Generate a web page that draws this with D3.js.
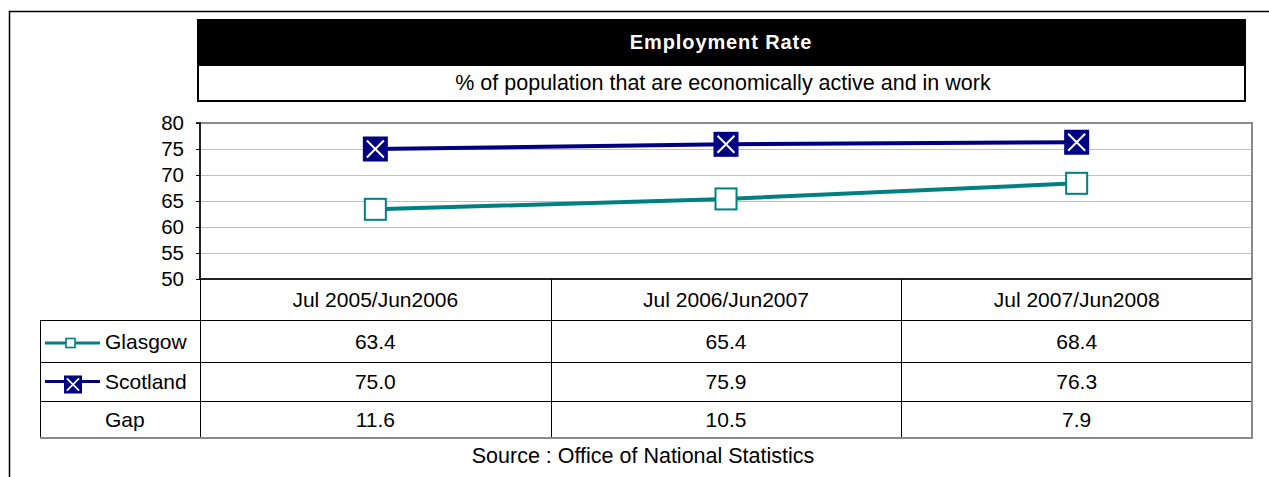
<!DOCTYPE html>
<html>
<head>
<meta charset="utf-8">
<script src="https://cdn.jsdelivr.net/npm/d3@7/dist/d3.min.js"></script>
<style>
  html, body { margin: 0; padding: 0; background: #fff; }
  svg { display: block; font-family: "Liberation Sans", Arial, sans-serif; }
</style>
</head>
<body>
<svg id="chart" width="1269" height="477"></svg>
<script>
// Employment rate data (Office of National Statistics)
const categories = ["Jul 2005/Jun2006", "Jul 2006/Jun2007", "Jul 2007/Jun2008"];
const glasgow = [63.4, 65.4, 68.4];
const scotland = [75.0, 75.9, 76.3];
const gap = [11.6, 10.5, 7.9];
const yTicks = [50, 55, 60, 65, 70, 75, 80];

const titleText = "Employment Rate";
const subtitleText = "% of population that are economically active and in work";
const sourceText = "Source : Office of National Statistics";

const TEAL = "#008080";
const NAVY = "#000080";

const svg = d3.select("#chart");

// Layout
const plot = { left: 200, right: 1252, top: 123, bottom: 279 };
const tableLeft = 40;
const rowEdges = [279, 320, 362, 401, 438];

const x = d3.scaleBand().domain(categories).range([plot.left, plot.right]).padding(0);
const y = d3.scaleLinear().domain([50, 80]).range([plot.bottom, plot.top]);

// Outer frame (top and left edges)
svg.append("line").attr("x1", 9).attr("x2", 1269).attr("y1", 11.5).attr("y2", 11.5)
  .attr("stroke", "#000").attr("stroke-width", 1.5);
svg.append("line").attr("x1", 9.5).attr("x2", 9.5).attr("y1", 11).attr("y2", 477)
  .attr("stroke", "#000").attr("stroke-width", 1.5);

// Title block
svg.append("rect").attr("x", 197).attr("y", 19).attr("width", 1049).attr("height", 46)
  .attr("fill", "#000");
svg.append("rect").attr("x", 198).attr("y", 65).attr("width", 1047).attr("height", 36)
  .attr("fill", "#fff").attr("stroke", "#000").attr("stroke-width", 2);
svg.append("text").attr("x", 721).attr("y", 42).attr("dy", "0.36em")
  .attr("text-anchor", "middle").attr("fill", "#fff").attr("font-weight", "bold")
  .attr("font-size", 20).attr("letter-spacing", 0.9).text(titleText);
svg.append("text").attr("x", 723).attr("y", 82).attr("dy", "0.36em")
  .attr("text-anchor", "middle").attr("fill", "#000")
  .attr("font-size", 21.5).text(subtitleText);

// Gridlines
svg.append("g").selectAll("line").data(yTicks.filter(d => d > 50 && d < 80)).join("line")
  .attr("x1", plot.left).attr("x2", plot.right)
  .attr("y1", d => Math.round(y(d)) + 0.5).attr("y2", d => Math.round(y(d)) + 0.5)
  .attr("stroke", "#c0c0c0").attr("stroke-width", 1);

// Plot area border
svg.append("rect").attr("x", plot.left).attr("y", plot.top)
  .attr("width", plot.right - plot.left).attr("height", plot.bottom - plot.top)
  .attr("fill", "none").attr("stroke", "#8a8a8a").attr("stroke-width", 2);

// Y axis
const yAxis = d3.axisLeft(y).tickValues(yTicks).tickSize(4).tickPadding(12);
const gy = svg.append("g").attr("transform", `translate(${plot.left},0)`).call(yAxis);
gy.select(".domain").attr("stroke", "#000").attr("stroke-width", 1.5).attr("d", `M-4,${plot.top}H0V${plot.bottom}`);
gy.selectAll(".tick line").attr("stroke", "#000");
gy.selectAll(".tick text").attr("font-size", 20.5).attr("fill", "#000")
  .attr("font-family", "Liberation Sans, Arial, sans-serif");

// Lines
const cx = d => x(d) + x.bandwidth() / 2;
const lineGen = d3.line().x(d => cx(d.c)).y(d => y(d.v));
const series = [
  { name: "Glasgow", values: glasgow, color: TEAL },
  { name: "Scotland", values: scotland, color: NAVY }
];
series.forEach(s => {
  const pts = categories.map((c, i) => ({ c, v: s.values[i] }));
  svg.append("path").datum(pts).attr("d", lineGen)
    .attr("fill", "none").attr("stroke", s.color).attr("stroke-width", 4);
});

// Markers
function crossMarker(g, cxp, cyp, size) {
  g.append("rect").attr("x", cxp - size / 2).attr("y", cyp - size / 2)
    .attr("width", size).attr("height", size).attr("fill", NAVY);
  const k = size * 0.34;
  g.append("path")
    .attr("d", `M${cxp - k},${cyp - k}L${cxp + k},${cyp + k}M${cxp + k},${cyp - k}L${cxp - k},${cyp + k}`)
    .attr("stroke", "#fff").attr("stroke-width", size > 20 ? 2 : 1.6);
}
function squareMarker(g, cxp, cyp, size, sw) {
  g.append("rect").attr("x", cxp - size / 2).attr("y", cyp - size / 2)
    .attr("width", size).attr("height", size).attr("fill", "#fff")
    .attr("stroke", TEAL).attr("stroke-width", sw);
}
const mg = svg.append("g");
categories.forEach((c, i) => {
  squareMarker(mg, cx(c), y(glasgow[i]), 21, 2);
  crossMarker(mg, cx(c), y(scotland[i]), 25);
});

// Data table
const tg = svg.append("g");
// horizontal row lines
[rowEdges[1], rowEdges[2], rowEdges[3]].forEach(ry => {
  tg.append("line").attr("x1", tableLeft).attr("x2", plot.right)
    .attr("y1", ry + 0.5).attr("y2", ry + 0.5).attr("stroke", "#000").attr("stroke-width", 1);
});
// header top line under plot
tg.append("line").attr("x1", plot.left).attr("x2", plot.right)
  .attr("y1", rowEdges[0]).attr("y2", rowEdges[0]).attr("stroke", "#000").attr("stroke-width", 1.5);
// left edge of legend column
tg.append("line").attr("x1", tableLeft + 0.5).attr("x2", tableLeft + 0.5)
  .attr("y1", rowEdges[1]).attr("y2", rowEdges[4]).attr("stroke", "#000").attr("stroke-width", 1);
// column dividers
[plot.left, x(categories[1]), x(categories[2])].forEach(cxv => {
  tg.append("line").attr("x1", Math.round(cxv) + 0.5).attr("x2", Math.round(cxv) + 0.5)
    .attr("y1", rowEdges[0]).attr("y2", rowEdges[4]).attr("stroke", "#000").attr("stroke-width", 1);
});
// right and bottom edges (gray)
tg.append("line").attr("x1", plot.right).attr("x2", plot.right)
  .attr("y1", rowEdges[0]).attr("y2", rowEdges[4] + 1).attr("stroke", "#8a8a8a").attr("stroke-width", 2);
tg.append("line").attr("x1", tableLeft).attr("x2", plot.right + 1)
  .attr("y1", rowEdges[4]).attr("y2", rowEdges[4]).attr("stroke", "#8a8a8a").attr("stroke-width", 2);

const rowMid = i => (rowEdges[i] + rowEdges[i + 1]) / 2;

// Header labels
tg.selectAll("text.cat").data(categories).join("text").attr("class", "cat")
  .attr("x", d => cx(d)).attr("y", rowMid(0)).attr("dy", "0.36em")
  .attr("text-anchor", "middle").attr("font-size", 21).attr("fill", "#000").text(d => d);

// Value rows
const rows = [
  { label: "Glasgow", values: glasgow },
  { label: "Scotland", values: scotland },
  { label: "Gap", values: gap }
];
rows.forEach((r, ri) => {
  const ym = rowMid(ri + 1);
  r.values.forEach((v, i) => {
    tg.append("text").attr("x", cx(categories[i])).attr("y", ym).attr("dy", "0.36em")
      .attr("text-anchor", "middle").attr("font-size", 21).attr("fill", "#000")
      .text(d3.format(".1f")(v));
  });
  tg.append("text").attr("x", 105).attr("y", ym).attr("dy", "0.36em")
    .attr("font-size", 21).attr("fill", "#000").text(r.label);
});

// Legend keys inside the table
const ly1 = rowMid(1) + 2;
tg.append("line").attr("x1", 45).attr("x2", 100).attr("y1", ly1).attr("y2", ly1)
  .attr("stroke", TEAL).attr("stroke-width", 3);
squareMarker(tg, 70.5, ly1, 9, 1.6);
const ly2 = rowMid(2) + 3;
tg.append("line").attr("x1", 45).attr("x2", 100).attr("y1", ly2 - 3).attr("y2", ly2 - 3)
  .attr("stroke", NAVY).attr("stroke-width", 3);
crossMarker(tg, 73, ly2, 18);

// Source note
svg.append("text").attr("x", 643).attr("y", 455).attr("dy", "0.36em")
  .attr("text-anchor", "middle").attr("font-size", 21.5).attr("fill", "#000").text(sourceText);
</script>
</body>
</html>
